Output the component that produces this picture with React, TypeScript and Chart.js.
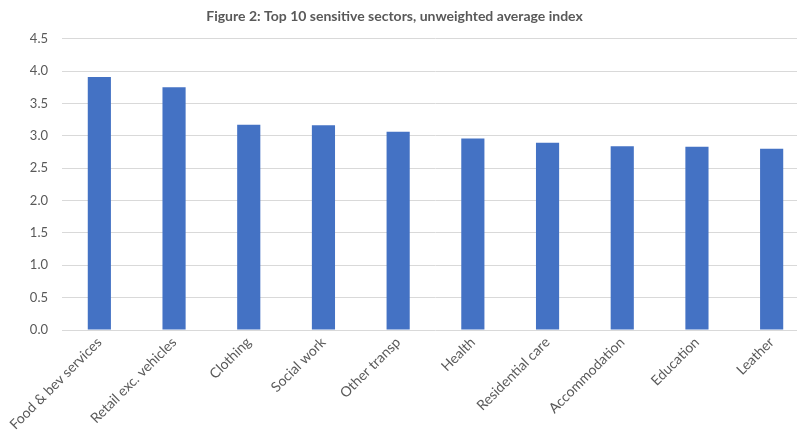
import React, { useEffect, useRef } from "react";
import { Chart, registerables } from "chart.js";

Chart.register(...registerables);

const categories = [
  "Food & bev services",
  "Retail exc. vehicles",
  "Clothing",
  "Social work",
  "Other transp",
  "Health",
  "Residential care",
  "Accommodation",
  "Education",
  "Leather",
];
const values = [3.91, 3.75, 3.17, 3.165, 3.065, 2.96, 2.895, 2.84, 2.83, 2.8];
const titleText = "Figure 2: Top 10 sensitive sectors, unweighted average index";

const FONT = "Lato, 'Open Sans', sans-serif";
const TEXT = "#595959";
const GRID = "#d9d9d9";
const BAR = "#4472c4";

export default function App() {
  const ref = useRef<HTMLCanvasElement | null>(null);
  useEffect(() => {
    if (!ref.current) return;
    const chart = new Chart(ref.current, {
      type: "bar",
      data: {
        labels: categories,
        datasets: [
          {
            data: values,
            backgroundColor: BAR,
            borderWidth: 0,
            categoryPercentage: 1,
            barPercentage: 0.31,
          },
        ],
      },
      options: {
        animation: false,
        responsive: false,
        maintainAspectRatio: false,
        layout: { padding: { left: 0, right: 11, top: 0, bottom: 0 } },
        plugins: {
          legend: { display: false },
          tooltip: { enabled: false },
          title: {
            display: true,
            text: titleText,
            color: TEXT,
            font: { family: FONT, size: 14, weight: "bold" },
            padding: { top: 8, bottom: 14 },
          },
        },
        scales: {
          x: {
            grid: { display: false, drawTicks: false },
            border: { display: false },
            ticks: {
              color: TEXT,
              font: { family: FONT, size: 14 },
              maxRotation: 45,
              minRotation: 45,
              padding: 4,
              autoSkip: false,
            },
            afterFit: (s: any) => {
              s.height = 104;
            },
          },
          y: {
            min: 0,
            max: 4.5,
            grid: { color: GRID, lineWidth: 1, drawTicks: false },
            border: { display: false },
            ticks: {
              stepSize: 0.5,
              color: TEXT,
              font: { family: FONT, size: 13 },
              padding: 14,
              callback: (v: any) => Number(v).toFixed(1),
            },
            afterFit: (s: any) => {
              s.width = 82;
            },
          },
        },
      },
    });
    return () => chart.destroy();
  }, []);
  return (
    <div
      style={{
        position: "absolute",
        left: 0,
        top: 0,
        width: 797,
        height: 434,
        overflow: "hidden",
        background: "#fff",
      }}
    >
      <canvas
        ref={ref}
        width={840}
        height={434}
        style={{ position: "absolute", left: -20, top: 0, width: 840, height: 434 }}
      />
    </div>
  );
}
